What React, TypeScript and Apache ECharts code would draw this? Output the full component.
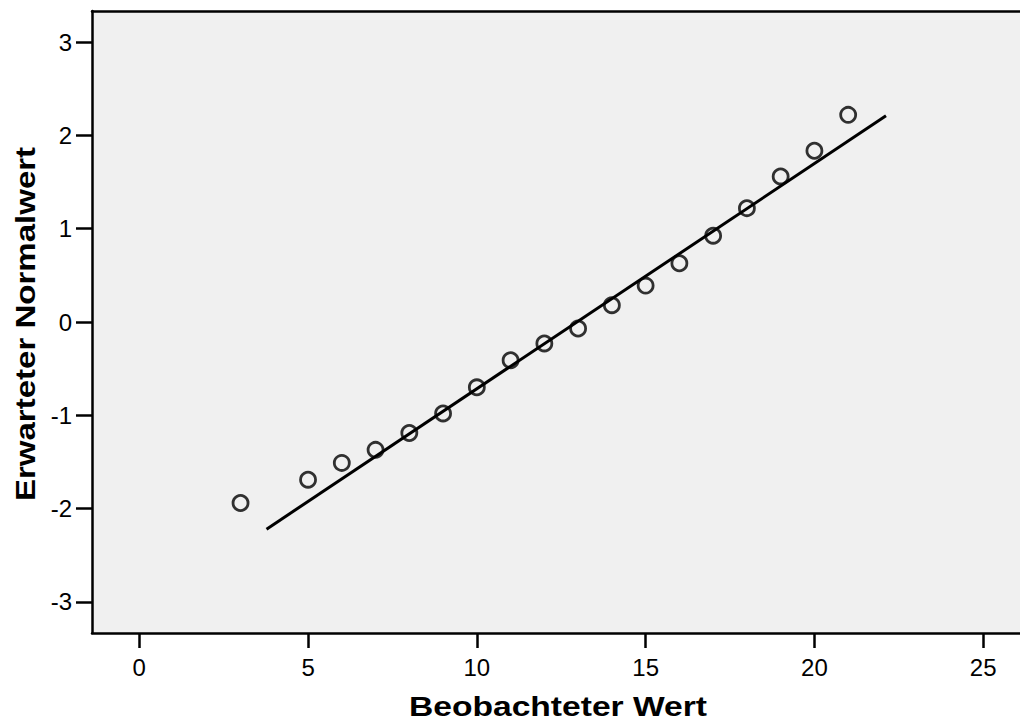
import React, { useEffect, useRef } from "react";
import * as echarts from "echarts";

const observed = [3, 5, 6, 7, 8, 9, 10, 11, 12, 13, 14, 15, 16, 17, 18, 19, 20, 21];
const expected = [-1.94, -1.69, -1.51, -1.37, -1.19, -0.98, -0.7, -0.41, -0.23, -0.07, 0.18, 0.39, 0.63, 0.925, 1.22, 1.56, 1.835, 2.22];
const lineX = [3.77, 22.12];
const lineY = [-2.22, 2.21];
const xTicks = [0, 5, 10, 15, 20, 25];
const yTicks = [-3, -2, -1, 0, 1, 2, 3];
const xTitle = "Beobachteter Wert";
const yTitle = "Erwarteter Normalwert";

const FONT = "'Liberation Sans', Arial, Helvetica, sans-serif";

export default function App() {
  const ref = useRef<HTMLDivElement>(null);
  useEffect(() => {
    if (!ref.current) return;
    const chart = echarts.init(ref.current, undefined, { renderer: "svg" });
    const axisLine = { show: true, onZero: false, lineStyle: { color: "#000", width: 2.5 } };
    chart.setOption({
      animation: false,
      grid: {
        left: 92,
        top: 11,
        right: 0,
        bottom: 92,
        containLabel: false,
        outerBoundsMode: "none",
        show: true,
        backgroundColor: "#f0f0f0",
        borderWidth: 0,
      },
      graphic: [
        {
          type: "text",
          x: 558,
          y: 706,
          scaleX: 1.2,
          style: {
            text: xTitle,
            fill: "#000",
            font: `bold 28px ${FONT}`,
            textAlign: "center",
            textVerticalAlign: "middle",
          },
        },
        {
          type: "text",
          x: 25,
          y: 324,
          rotation: Math.PI / 2,
          scaleX: 1.18,
          style: {
            text: yTitle,
            fill: "#000",
            font: `bold 28px ${FONT}`,
            textAlign: "center",
            textVerticalAlign: "middle",
          },
        },
      ],
      xAxis: [
        {
          type: "value",
          position: "bottom",
          min: -1.4,
          max: 26.09,
          axisLine,
          splitLine: { show: false },
          axisTick: { show: true, length: 15, lineStyle: { color: "#000", width: 2.5 }, customValues: xTicks },
          axisLabel: { color: "#000", fontSize: 24, fontFamily: FONT, margin: 22, customValues: xTicks },
        },
        {
          type: "value",
          position: "top",
          min: -1.4,
          max: 26.09,
          axisLine,
          splitLine: { show: false },
          axisTick: { show: false },
          axisLabel: { show: false },
        },
      ],
      yAxis: {
        type: "value",
        min: -3.333,
        max: 3.333,
        axisLine,
        splitLine: { show: false },
        axisTick: { show: true, length: 16, lineStyle: { color: "#000", width: 2.5 }, customValues: yTicks },
        axisLabel: { color: "#000", fontSize: 24, fontFamily: FONT, margin: 20, customValues: yTicks },
      },
      series: [
        {
          type: "line",
          data: lineX.map((x, i) => [x, lineY[i]]),
          symbol: "none",
          lineStyle: { color: "#000", width: 3 },
          z: 2,
        },
        {
          type: "scatter",
          data: observed.map((x, i) => [x, expected[i]]),
          symbol: "circle",
          symbolSize: 15,
          itemStyle: { color: "rgba(0,0,0,0)", borderColor: "#000", borderWidth: 2.8 },
          z: 3,
        },
      ],
    });
    return () => chart.dispose();
  }, []);
  return (
    <div
      ref={ref}
      style={{ position: "absolute", left: 0, top: 0, width: 1020, height: 725 }}
    />
  );
}
